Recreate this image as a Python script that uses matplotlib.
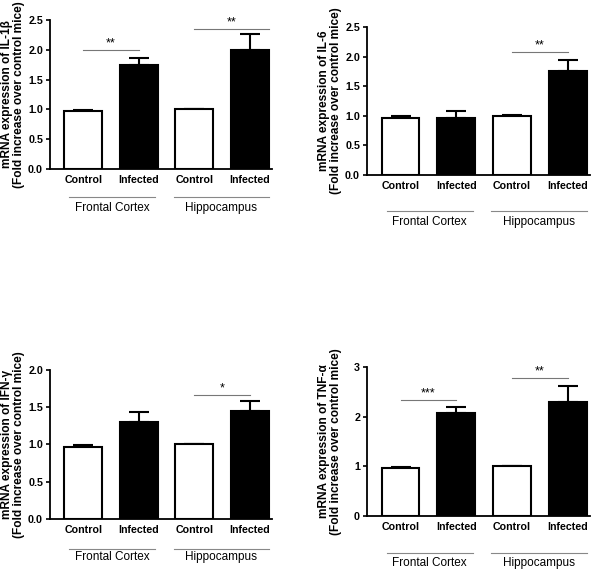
import numpy as np
import matplotlib
matplotlib.use("Agg")
import matplotlib.pyplot as plt

plt.rcParams['font.family'] = ['Liberation Sans', 'DejaVu Sans']

categories = ["Control", "Infected", "Control", "Infected"]
regions = ["Frontal Cortex", "Hippocampus"]

# mean and upper SEM per panel (FC control, FC infected, HC control, HC infected)
il1b = [0.97, 1.75, 1.00, 2.00]
il1b_err = [0.02, 0.11, 0.01, 0.26]
il6 = [0.97, 0.97, 1.00, 1.75]
il6_err = [0.02, 0.11, 0.01, 0.20]
ifng = [0.97, 1.30, 1.00, 1.45]
ifng_err = [0.02, 0.14, 0.01, 0.14]
tnfa = [0.97, 2.07, 1.00, 2.30]
tnfa_err = [0.02, 0.13, 0.01, 0.32]

# significance marks: (label, x start, x end, y)
il1b_sig = [("**", 0.0, 1.0, 2.0), ("**", 2.0, 3.35, 2.35)]
il6_sig = [("**", 2.0, 3.0, 2.08)]
ifng_sig = [("*", 2.0, 3.0, 1.66)]
tnfa_sig = [("***", 0.0, 1.0, 2.33), ("**", 2.0, 3.0, 2.78)]

panels = [
    ("mRNA expression of IL-1\u03b2", il1b, il1b_err, il1b_sig, 2.5, [0, 0.5, 1.0, 1.5, 2.0, 2.5], "%.1f",
     [0.0833, 0.7045, 0.37, 0.2605], 28, 39),
    ("mRNA expression of IL-6", il6, il6_err, il6_sig, 2.5, [0, 0.5, 1.0, 1.5, 2.0, 2.5], "%.1f",
     [0.6117, 0.694, 0.372, 0.2587], 36, 47),
    ("mRNA expression of IFN-\u03b3", ifng, ifng_err, ifng_sig, 2.0, [0, 0.5, 1.0, 1.5, 2.0], "%.1f",
     [0.0833, 0.0927, 0.37, 0.2605], 30, 38),
    ("mRNA expression of TNF-\u03b1", tnfa, tnfa_err, tnfa_sig, 3.0, [0, 1, 2, 3], "%d",
     [0.6117, 0.0979, 0.372, 0.2605], 37, 47),
]

fig = plt.figure(figsize=(6.0, 5.72), dpi=100)
x = np.arange(4)
colors = ["white", "black", "white", "black"]

for title, vals, errs, sigs, ymax, yticks, fmt, pos, line_off, lab_off in panels:
    ax = fig.add_axes(pos)
    ax.bar(x, vals, width=0.68, color=colors, edgecolor="black", linewidth=1.5, zorder=2)
    ax.errorbar(x, vals, yerr=[np.zeros(4), errs], fmt="none", ecolor="black",
                elinewidth=1.5, capsize=7, capthick=1.5, zorder=1)
    ax.set_xlim(-0.6, 3.4)
    ax.set_ylim(0, ymax)
    ax.set_yticks(yticks)
    ax.set_yticklabels([fmt % t for t in yticks], fontsize=7.7, fontweight="bold")
    ax.set_xticks(x)
    ax.set_xticklabels(categories, fontsize=7.7, fontweight="bold")
    ax.tick_params(axis="x", length=0, pad=4)
    ax.tick_params(axis="y", length=3, width=1.2, pad=2)
    ax.spines["top"].set_visible(False)
    ax.spines["right"].set_visible(False)
    ax.spines["left"].set_linewidth(1.3)
    ax.spines["bottom"].set_linewidth(1.3)

    w_px = pos[2] * fig.bbox.width
    ax.text(-37 / w_px, 0.5, title + "\n(Fold increase over control mice)",
            transform=ax.transAxes, rotation=90, ha="center", va="center",
            fontsize=8.6, fontweight="bold", linespacing=0.95)

    for lab, x0, x1, y in sigs:
        ax.plot([x0, x1], [y, y], color="#777777", linewidth=0.8, clip_on=False)
        ax.text((x0 + x1) / 2, y + ymax * 0.005, lab, ha="center", va="bottom", fontsize=9)

    # region lines and labels under the axis
    h_px = pos[3] * fig.bbox.height
    y_line = -line_off / h_px
    y_lab = -lab_off / h_px
    trans = ax.get_xaxis_transform()
    for (x0, x1), name in zip([(-0.25, 1.3), (1.63, 3.35)], regions):
        ax.plot([x0, x1], [y_line, y_line], color="#888888", linewidth=0.8,
                transform=trans, clip_on=False)
        ax.text((x0 + x1) / 2, y_lab, name, transform=trans, ha="center",
                va="center", fontsize=8.5)

fig.savefig("out.png", dpi=100, facecolor="white")
